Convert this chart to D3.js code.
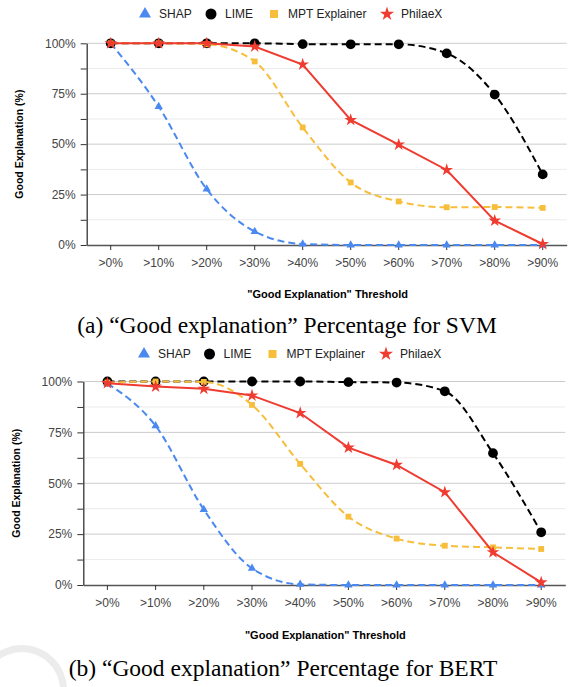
<!DOCTYPE html>
<html>
<head>
<meta charset="utf-8">
<script src="https://cdn.jsdelivr.net/npm/d3@7"></script>
<style>
  body { margin: 0; background: #fff; }
  svg { display: block; }
</style>
</head>
<body>
<svg id="chart-base"></svg>
<script>
// data (values in %)
const categories = [">0%", ">10%", ">20%", ">30%", ">40%", ">50%", ">60%", ">70%", ">80%", ">90%"];
const seriesNames = ["SHAP", "LIME", "MPT Explainer", "PhilaeX"];
const yTicks = [0, 12.5, 25, 37.5, 50, 62.5, 75, 87.5, 100];

const svmShap = [100, 68.6, 27.7, 6.7, 0.5, 0, 0, 0, 0, 0];
const svmLime = [100, 100, 100, 100, 99.6, 99.5, 99.5, 95, 74.6, 35];
const svmMpt = [100, 100, 99.5, 91, 58.3, 31, 21.6, 18.7, 18.8, 18.4];
const svmPhilaex = [100, 100, 100, 98.4, 89.5, 62, 49.8, 37.2, 12.1, 0.5];

const bertShap = [99, 78.2, 37.1, 8.2, 0.3, 0, 0, 0, 0, 0];
const bertLime = [100, 100, 100, 100, 100, 99.7, 99.5, 95.2, 64.8, 25.9];
const bertMpt = [99.5, 100, 99.8, 88.5, 59.5, 33.6, 22.8, 19.3, 18.5, 17.7];
const bertPhilaex = [99.2, 97.5, 96.4, 93.1, 84.5, 67.5, 59, 45.6, 16.1, 1.3];

const W = 568, H = 687;
const sansFont = "'Liberation Sans', Arial, sans-serif";
const serifFont = "'Liberation Serif', 'Times New Roman', serif";

// look of each series, same order as seriesNames
const styles = [
    { color: "#4a89f0", dash: "7,4", curve: true, symbol: d3.symbolTriangle, size: 30, legendSize: 62 },
    { color: "#000000", dash: "7,4", curve: true, symbol: d3.symbolCircle, size: 75, legendSize: 95 },
    { color: "#f6be3b", dash: "7,4", curve: true, symbol: d3.symbolSquare, size: 34, legendSize: 64 },
    { color: "#ef3b30", dash: null, curve: false, symbol: d3.symbolStar, size: 50, legendSize: 62 }
];

const svgBase = d3.select("#chart-base")
    .attr("width", W)
    .attr("height", H)
    .attr("viewBox", "0 0 " + W + " " + H);

// faint ring from the page behind the figure
svgBase.append("path")
    .attr("d", d3.arc()({ innerRadius: 38, outerRadius: 45, startAngle: -Math.PI, endAngle: Math.PI }))
    .attr("transform", "translate(22,690)")
    .attr("fill", "#ececec");

function drawChart(svgBase, values, cfg) {
    let g = svgBase.append("g");

    let x = d3.scaleBand().domain(categories).range([cfg.left, cfg.right]);
    let y = d3.scaleLinear().domain([0, 100]).range([cfg.bottom, cfg.top]);
    let cx = d => x(d) + x.bandwidth() / 2;

    // gridlines
    g.append("g").selectAll("line")
        .data(yTicks.filter(t => t > 0))
        .join("line")
        .attr("x1", cfg.left).attr("x2", cfg.right)
        .attr("y1", d => y(d)).attr("y2", d => y(d))
        .attr("stroke", d => d % 25 === 0 ? "#cccccc" : "#ebebeb")
        .attr("stroke-width", 1);

    // y axis
    let yAxis = g.append("g")
        .attr("transform", "translate(" + cfg.left + ",0)")
        .call(d3.axisLeft(y).tickValues(yTicks).tickSize(6).tickSizeOuter(0).tickPadding(5)
            .tickFormat(d => d % 25 === 0 ? d + "%" : ""));
    yAxis.select(".domain").attr("stroke", "#333").attr("stroke-width", 1.3);
    yAxis.selectAll(".tick line").attr("stroke", "#333");
    yAxis.selectAll("text").attr("font-family", sansFont).attr("font-size", 12).attr("fill", "#444");

    // x axis
    let xAxis = g.append("g")
        .attr("transform", "translate(0," + cfg.bottom + ")")
        .call(d3.axisBottom(x).tickSize(5).tickSizeOuter(0).tickPadding(8));
    xAxis.select(".domain").attr("stroke", "#555").attr("stroke-width", 1.3);
    xAxis.selectAll(".tick line").attr("stroke", "#333");
    xAxis.selectAll("text").attr("font-family", sansFont).attr("font-size", 12).attr("fill", "#444");

    // lines then markers, later series on top
    values.forEach((vals, i) => {
        let st = styles[i];
        let pts = vals.map((v, j) => [cx(categories[j]), y(v)]);
        let line = d3.line().curve(st.curve ? d3.curveMonotoneX : d3.curveLinear);
        g.append("path")
            .attr("d", line(pts))
            .attr("fill", "none")
            .attr("stroke", st.color)
            .attr("stroke-width", 2)
            .attr("stroke-dasharray", st.dash);
        g.append("g").selectAll("path")
            .data(pts)
            .join("path")
            .attr("transform", d => "translate(" + d[0] + "," + d[1] + ")")
            .attr("d", d3.symbol().type(st.symbol).size(st.size))
            .attr("fill", st.color);
    });

    // legend
    seriesNames.forEach((name, i) => {
        let st = styles[i];
        g.append("path")
            .attr("transform", "translate(" + cfg.legendX[i] + "," + cfg.legendY + ")")
            .attr("d", d3.symbol().type(st.symbol).size(st.legendSize))
            .attr("fill", st.color);
        g.append("text")
            .attr("x", cfg.legendX[i] + 14)
            .attr("y", cfg.legendY)
            .attr("dy", "0.36em")
            .attr("font-family", sansFont)
            .attr("font-size", 12)
            .attr("fill", "#222")
            .text(name);
    });

    // axis titles
    g.append("text")
        .attr("x", (cfg.left + cfg.right) / 2 + 1)
        .attr("y", cfg.xTitleY)
        .attr("dy", "0.36em")
        .attr("text-anchor", "middle")
        .attr("font-family", sansFont)
        .attr("font-size", 11)
        .attr("font-weight", "bold")
        .attr("fill", "#000")
        .text("\"Good Explanation\" Threshold");

    g.append("text")
        .attr("transform", "translate(" + cfg.yTitleX + "," + (cfg.top + cfg.bottom) / 2 + ") rotate(-90)")
        .attr("dy", "0.36em")
        .attr("text-anchor", "middle")
        .attr("font-family", sansFont)
        .attr("font-size", 10.5)
        .attr("font-weight", "bold")
        .attr("fill", "#000")
        .text("Good Explanation (%)");

    // caption under the chart
    g.append("text")
        .attr("x", cfg.captionX)
        .attr("y", cfg.captionY)
        .attr("text-anchor", "middle")
        .attr("font-family", serifFont)
        .attr("font-size", 23.5)
        .attr("fill", "#000")
        .text(cfg.caption);
}

drawChart(svgBase, [svmShap, svmLime, svmMpt, svmPhilaex], {
    left: 86.7, right: 566.7, top: 43.3, bottom: 245,
    legendY: 14, legendX: [145, 211, 274, 387],
    xTitleY: 294, yTitleX: 19,
    captionX: 287, captionY: 333,
    caption: "(a) \u201cGood explanation\u201d Percentage for SVM"
});

drawChart(svgBase, [bertShap, bertLime, bertMpt, bertPhilaex], {
    left: 83.3, right: 565.3, top: 381.5, bottom: 585,
    legendY: 354, legendX: [144, 209.5, 272.5, 386],
    xTitleY: 635, yTitleX: 16,
    captionX: 283, captionY: 676,
    caption: "(b) \u201cGood explanation\u201d Percentage for BERT"
});
</script>
</body>
</html>
